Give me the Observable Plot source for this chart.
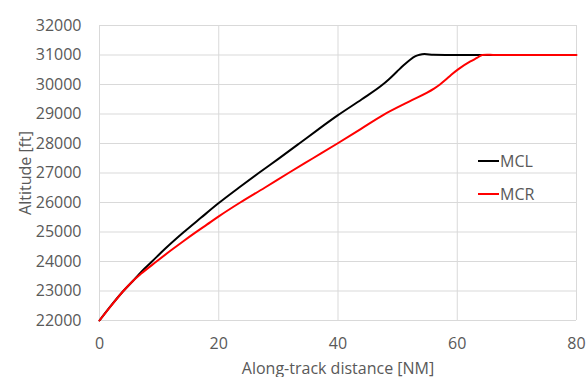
<!DOCTYPE html>
<html>
<head>
<meta charset="utf-8">
<script src="https://cdn.jsdelivr.net/npm/d3@7"></script>
<script src="https://cdn.jsdelivr.net/npm/@observablehq/plot@0.6"></script>
<style>
  html, body { margin: 0; padding: 0; background: #fff; }
  #wrap { position: relative; width: 587px; height: 377px; overflow: hidden; font-family: "Open Sans", sans-serif; }
  .leg { position: absolute; left: 478px; display: flex; align-items: center; font-size: 16px; color: #595959; }
  .leg span.sw { display: inline-block; width: 21px; height: 2px; margin-right: 1px; }
</style>
</head>
<body>
<div id="wrap"></div>
<script>
// Along-track distance [NM] and altitude [ft]
const seriesNames = ["MCL", "MCR"];
const seriesColors = ["#000000", "#ff0000"];

const mclDist = [0, 2, 4, 5.6, 7, 8.8, 11, 14.1, 17, 20, 23.3, 26.7, 30, 33.5, 36.7, 40, 44, 47.4, 48.5, 49.9, 51, 52.1, 53, 53.7, 54.5, 56, 60, 64.4, 66];
const mclAlt  = [22000, 22520, 23000, 23340, 23650, 24000, 24430, 24990, 25480, 25980, 26490, 27000, 27480, 28000, 28480, 28960, 29500, 29980, 30170, 30440, 30650, 30840, 30960, 31010, 31030, 31010, 31000, 31000, 31000];

const mcrDist = [0, 2, 4, 5.6, 7, 9.5, 12, 14, 16, 18, 20, 23.6, 27.7, 31.7, 35.8, 39.9, 43.8, 47.7, 52, 56.1, 57.1, 58, 59, 60.2, 62.2, 63.3, 64.2, 65, 66, 80];
const mcrAlt  = [22000, 22510, 23000, 23340, 23590, 23990, 24380, 24680, 24970, 25250, 25530, 26000, 26500, 27000, 27500, 28000, 28490, 28980, 29430, 29860, 30000, 30150, 30330, 30520, 30780, 30900, 31000, 31010, 31000, 31000];

const xTicks = [0, 20, 40, 60, 80];
const yTicks = [22000, 23000, 24000, 25000, 26000, 27000, 28000, 29000, 30000, 31000, 32000];

const mcl = mclDist.map((d, i) => ({dist: d, alt: mclAlt[i]}));
const mcr = mcrDist.map((d, i) => ({dist: d, alt: mcrAlt[i]}));

const chart = Plot.plot({
  width: 587,
  height: 377,
  marginLeft: 99,
  marginRight: 11,
  marginTop: 25,
  marginBottom: 57,
  style: {fontFamily: "Open Sans, sans-serif", fontSize: "16px", color: "#595959", background: "#fff"},
  x: {domain: [0, 80]},
  y: {domain: [22000, 32000]},
  marks: [
    Plot.gridX(xTicks, {stroke: "#d9d9d9", strokeOpacity: 1, strokeWidth: 1}),
    Plot.gridY(yTicks, {stroke: "#d9d9d9", strokeOpacity: 1, strokeWidth: 1}),
    Plot.axisX(xTicks, {tickSize: 0, tickPadding: 17, fill: "#595959",
      label: "Along-track distance [NM]", labelAnchor: "center", labelArrow: "none", labelOffset: 53}),
    Plot.axisY(yTicks, {tickSize: 0, tickPadding: 18, fill: "#595959", tickFormat: d => String(d),
      label: "Altitude [ft]", labelAnchor: "center", labelArrow: "none", labelOffset: 80}),
    Plot.line(mcl, {x: "dist", y: "alt", stroke: seriesColors[0], strokeWidth: 2, curve: "monotone-x"}),
    Plot.line(mcr, {x: "dist", y: "alt", stroke: seriesColors[1], strokeWidth: 2, curve: "monotone-x"})
  ]
});

const wrap = document.getElementById("wrap");
wrap.appendChild(chart);

const legTops = [150, 183];
seriesNames.forEach((name, i) => {
  const div = document.createElement("div");
  div.className = "leg";
  div.style.top = legTops[i] + "px";
  const sw = document.createElement("span");
  sw.className = "sw";
  sw.style.background = seriesColors[i];
  div.appendChild(sw);
  div.appendChild(document.createTextNode(name));
  wrap.appendChild(div);
});
</script>
</body>
</html>
